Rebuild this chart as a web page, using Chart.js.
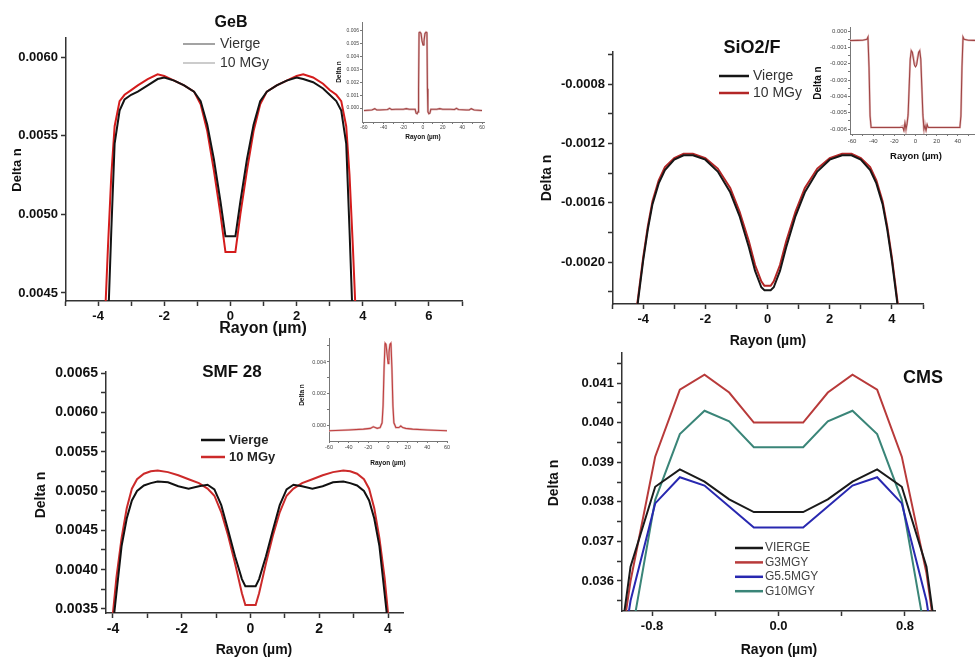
<!DOCTYPE html>
<html>
<head>
<meta charset="utf-8">
<script src="https://cdn.jsdelivr.net/npm/chart.js@4.4.1/dist/chart.umd.min.js"></script>
<style>
html, body { margin: 0; padding: 0; background: #fff; width: 975px; height: 657px; overflow: hidden; }
canvas { position: absolute; }
</style>
</head>
<body>
<canvas id="geb"></canvas>
<canvas id="sio"></canvas>
<canvas id="smf"></canvas>
<canvas id="cms"></canvas>
<canvas id="gebIn"></canvas>
<canvas id="sioIn"></canvas>
<canvas id="smfIn"></canvas>
<script>
// GeB profile
const gebX = [-3.8,-3.7,-3.6,-3.5,-3.35,-3.2,-3.0,-2.8,-2.5,-2.2,-2.0,-1.7,-1.4,-1.1,-0.9,-0.7,-0.5,-0.3,-0.15,
	0.15,0.3,0.5,0.7,0.9,1.1,1.4,1.7,2.0,2.2,2.5,2.8,3.0,3.2,3.35,3.5,3.6,3.7,3.8];
const gebVierge = [0.0040,0.0043,0.0049,0.00545,0.00566,0.00573,0.00576,0.00578,0.00582,0.00586,0.00587,0.00585,0.00582,0.00578,0.00572,0.00557,0.00535,0.00508,0.00486,
	0.00486,0.00508,0.00535,0.00557,0.00572,0.00578,0.00582,0.00585,0.00587,0.00586,0.00584,0.00580,0.00576,0.00572,0.00566,0.00545,0.0049,0.0043,0.0040];
const geb10 = [0.0043,0.0048,0.00525,0.00556,0.00572,0.00576,0.00579,0.00582,0.00586,0.00589,0.00588,0.00585,0.00582,0.00578,0.00570,0.00553,0.00528,0.00500,0.00476,
	0.00476,0.00500,0.00528,0.00553,0.00570,0.00578,0.00582,0.00585,0.00588,0.00589,0.00587,0.00583,0.00579,0.00576,0.00572,0.00556,0.00525,0.0048,0.0043];
const gebXTicks = [-5,-4,-3,-2,-1,0,1,2,3,4,5,6,7];
const gebXLabels = [-4,-2,0,2,4,6];
const gebYTicks = [0.0045,0.0050,0.0055,0.0060];

// SiO2/F profile
const sioX = [-4.3,-4.2,-4.0,-3.85,-3.7,-3.5,-3.3,-3.0,-2.7,-2.4,-2.0,-1.6,-1.2,-0.9,-0.6,-0.4,-0.2,-0.1,
	0.1,0.2,0.4,0.6,0.9,1.2,1.6,2.0,2.4,2.7,3.0,3.3,3.5,3.7,3.85,4.0,4.2,4.3];
const sioVierge = [-0.00250,-0.00232,-0.00199,-0.00178,-0.00161,-0.00147,-0.00138,-0.00131,-0.00128,-0.00128,-0.00131,-0.00139,-0.00153,-0.00169,-0.00190,-0.00206,-0.00217,-0.00219,
	-0.00219,-0.00217,-0.00206,-0.00190,-0.00169,-0.00153,-0.00139,-0.00131,-0.00128,-0.00128,-0.00131,-0.00138,-0.00147,-0.00161,-0.00178,-0.00199,-0.00232,-0.00250];
const sio10 = [-0.00250,-0.00230,-0.00197,-0.00176,-0.00159,-0.00145,-0.00136,-0.00130,-0.00127,-0.00127,-0.00130,-0.00137,-0.00150,-0.00166,-0.00186,-0.00202,-0.00213,-0.00216,
	-0.00216,-0.00213,-0.00202,-0.00186,-0.00166,-0.00150,-0.00137,-0.00130,-0.00127,-0.00127,-0.00130,-0.00136,-0.00145,-0.00159,-0.00176,-0.00197,-0.00230,-0.00250];
const sioXTicks = [-5,-4,-3,-2,-1,0,1,2,3,4,5];
const sioXLabels = [-4,-2,0,2,4];
const sioYTicks = [-0.0022,-0.0020,-0.0018,-0.0016,-0.0014,-0.0012,-0.0010,-0.0008,-0.0006];
const sioYLabels = [-0.0020,-0.0016,-0.0012,-0.0008];

// SMF 28 profile
const smfX = [-4.0,-3.9,-3.75,-3.6,-3.45,-3.3,-3.1,-2.9,-2.7,-2.4,-2.1,-1.8,-1.5,-1.25,-1.05,-0.85,-0.65,-0.45,-0.25,-0.15,
	0.15,0.25,0.45,0.65,0.85,1.05,1.25,1.5,1.8,2.1,2.4,2.7,2.9,3.1,3.3,3.45,3.6,3.75,3.9,4.0];
const smfVierge = [0.00330,0.00370,0.00430,0.00465,0.00488,0.00500,0.00507,0.00510,0.00512,0.00511,0.00506,0.00503,0.00506,0.00508,0.00502,0.00482,0.00450,0.00417,0.00388,0.00379,
	0.00379,0.00388,0.00417,0.00450,0.00482,0.00502,0.00508,0.00506,0.00503,0.00506,0.00511,0.00512,0.00510,0.00507,0.00500,0.00488,0.00465,0.00430,0.00370,0.00330];
const smf10 = [0.00345,0.00390,0.00440,0.00478,0.00503,0.00515,0.00522,0.00525,0.00526,0.00524,0.00520,0.00515,0.00510,0.00503,0.00494,0.00473,0.00443,0.00408,0.00370,0.00355,
	0.00355,0.00370,0.00408,0.00443,0.00473,0.00494,0.00503,0.00510,0.00515,0.00520,0.00524,0.00526,0.00525,0.00522,0.00515,0.00503,0.00478,0.00440,0.00390,0.00345];
const smfXTicks = [-4,-3,-2,-1,0,1,2,3,4];
const smfXLabels = [-4,-2,0,2,4];
const smfYTicks = [0.0035,0.00375,0.0040,0.00425,0.0045,0.00475,0.0050,0.00525,0.0055,0.00575,0.0060,0.00625,0.0065];
const smfYLabels = [0.0035,0.0040,0.0045,0.0050,0.0055,0.0060,0.0065];

// CMS profile
const cmsX = [-1.092,-0.936,-0.78,-0.624,-0.468,-0.312,-0.156,0.156,0.312,0.468,0.624,0.78,0.936,1.092];
const cmsVierge = [0.0318,0.03636,0.03838,0.03882,0.03851,0.03806,0.03774,0.03774,0.03806,0.03851,0.03882,0.03838,0.03636,0.0318];
const cmsG3 = [0.0318,0.0360,0.03914,0.04083,0.04121,0.04076,0.04000,0.04000,0.04076,0.04121,0.04083,0.03914,0.0362,0.0318];
const cmsG55 = [0.0315,0.0355,0.03796,0.03862,0.03841,0.03788,0.03735,0.03735,0.03788,0.03841,0.03862,0.03796,0.0355,0.0315];
const cmsG10 = [0.0300,0.0345,0.03805,0.03971,0.04030,0.04003,0.03938,0.03938,0.04003,0.04030,0.03971,0.03805,0.0345,0.0300];
const cmsXTicks = [-0.8,-0.4,0,0.4,0.8];
const cmsXLabels = [-0.8,0,0.8];
const cmsYTicks = [0.0355,0.036,0.0365,0.037,0.0375,0.038,0.0385,0.039,0.0395,0.040,0.0405,0.041,0.0415];
const cmsYLabels = [0.036,0.037,0.038,0.039,0.040,0.041];

// insets (full radial scan)
const gebInX = [-60,-52,-49,-47,-44,-36,-34,-32,-28,-20,-17,-14,-10,-8,-7,-6,-5,-4.5,-4,-3,-2,-1,0,1,2,3,4,4.5,5,6,7,8,10,14,17,20,28,32,34,36,44,47,49,52,60];
const gebInVierge = [-0.0002,-0.00015,-0.00005,-0.00015,-0.00015,-0.00012,-0.00003,-0.00012,-0.0001,-0.0001,-0.00005,-0.0001,-0.0001,-0.0001,-0.0004,-0.00045,-0.0003,0.0015,0.0058,0.0059,0.0058,0.0053,0.0050,0.0053,0.0058,0.0059,0.0058,0.0015,-0.0003,-0.00045,-0.0004,-0.0001,-0.0001,-0.0001,-0.00005,-0.0001,-0.0001,-0.00012,-0.00003,-0.00012,-0.00015,-0.00015,-0.00005,-0.00015,-0.0002];
const gebIn10 = [-0.0002,-0.00015,-0.00005,-0.00015,-0.00015,-0.00012,-0.00003,-0.00012,-0.0001,-0.0001,-0.00005,-0.0001,-0.0001,-0.0001,-0.0004,-0.00045,-0.0003,0.0015,0.0059,0.0059,0.0058,0.0052,0.0049,0.0052,0.0058,0.0059,0.0059,0.0015,-0.0003,-0.00045,-0.0004,-0.0001,-0.0001,-0.0001,-0.00005,-0.0001,-0.0001,-0.00012,-0.00003,-0.00012,-0.00015,-0.00015,-0.00005,-0.00015,-0.0002];
const gebInXTicks = [-60,-50,-40,-30,-20,-10,0,10,20,30,40,50,60];
const gebInXLabels = [-60,-40,-20,0,20,40,60];
const gebInYTicks = [0,0.001,0.002,0.003,0.004,0.005,0.006];

const sioInX = [-62,-55,-50,-46,-45,-44,-43,-42,-35,-25,-15,-12,-11,-10,-9,-8,-7,-6,-5,-4,-3,-2,-1,0,1,2,3,4,5,6,7,8,9,10,11,12,15,25,35,42,43,44,45,46,50,55,62];
const sioInVierge = [-0.00058,-0.00057,-0.00056,-0.00050,-0.00038,-0.0022,-0.0052,-0.0059,-0.0059,-0.0059,-0.0059,-0.0058,-0.0060,-0.0057,-0.0061,-0.0056,-0.0052,-0.0035,-0.0018,-0.0012,-0.0013,-0.0016,-0.0020,-0.0021,-0.0020,-0.0016,-0.0013,-0.0012,-0.0018,-0.0035,-0.0052,-0.0061,-0.0057,-0.0060,-0.0058,-0.0059,-0.0059,-0.0059,-0.0059,-0.0059,-0.0052,-0.0022,-0.00038,-0.00050,-0.00056,-0.00057,-0.00058];
const sioIn10 = [-0.00058,-0.00057,-0.00056,-0.00050,-0.00036,-0.0022,-0.0052,-0.0059,-0.0059,-0.0059,-0.0059,-0.0059,-0.0061,-0.0056,-0.0060,-0.0057,-0.0051,-0.0034,-0.0017,-0.0012,-0.0013,-0.0017,-0.0021,-0.0022,-0.0021,-0.0017,-0.0013,-0.0012,-0.0017,-0.0034,-0.0051,-0.0060,-0.0058,-0.0061,-0.0057,-0.0059,-0.0059,-0.0059,-0.0059,-0.0059,-0.0052,-0.0022,-0.00036,-0.00050,-0.00056,-0.00057,-0.00058];
const sioInXTicks = [-60,-50,-40,-30,-20,-10,0,10,20,30,40,50,60];
const sioInXLabels = [-60,-40,-20,0,20,40,60];
const sioInYTicks = [-0.006,-0.0055,-0.005,-0.0045,-0.004,-0.0035,-0.003,-0.0025,-0.002,-0.0015,-0.001,-0.0005,0];
const sioInYLabels = [-0.006,-0.005,-0.004,-0.003,-0.002,-0.001,0];

const smfInX = [-60,-40,-25,-18,-15,-13,-11,-8,-6,-5,-4,-3,-2,-1,0,1,2,3,4,5,6,8,11,13,15,18,25,40,60];
const smfInVierge = [-0.0003,-0.00025,-0.0002,-0.00015,-0.00005,-0.0001,-0.00015,-0.0001,0.0002,0.0012,0.0035,0.0051,0.0051,0.0047,0.0042,0.0047,0.0051,0.0051,0.0035,0.0012,0.0002,-0.0001,-0.0001,0.0000,-0.0001,-0.00015,-0.0002,-0.00025,-0.0003];
const smfIn10 = [-0.0003,-0.00025,-0.0002,-0.00015,-0.00005,-0.0001,-0.00015,-0.0001,0.0002,0.0013,0.0036,0.0052,0.0051,0.0045,0.0039,0.0046,0.0051,0.0052,0.0036,0.0013,0.0002,-0.0001,-0.0001,0.0000,-0.0001,-0.00015,-0.0002,-0.00025,-0.0003];
const smfInXTicks = [-60,-50,-40,-30,-20,-10,0,10,20,30,40,50,60];
const smfInXLabels = [-60,-40,-20,0,20,40,60];
const smfInYTicks = [0,0.001,0.002,0.003,0.004,0.005];
const smfInYLabels = [0,0.002,0.004];

const FONT = "'Liberation Sans', Arial, Helvetica, sans-serif";
Chart.defaults.font.family = FONT;
Chart.defaults.color = '#222';

// extra text (titles, axis names, legends) per canvas, in page coordinates
const extras = {};

const textPlugin = {
	id: 'panelText',
	afterDraw(chart) {
		const ex = extras[chart.canvas.id];
		if (!ex) return;
		const ctx = chart.ctx;
		(ex.texts || []).forEach((t) => {
			ctx.save();
			ctx.font = t.font;
			ctx.fillStyle = t.color || '#111';
			ctx.textAlign = 'center';
			ctx.textBaseline = 'middle';
			ctx.translate(t.x - ex.ox, t.y - ex.oy);
			if (t.rot) ctx.rotate(-Math.PI / 2);
			ctx.fillText(t.text, 0, 0);
			ctx.restore();
		});
		const lg = ex.legend;
		if (!lg) return;
		chart.data.datasets.forEach((ds, i) => {
			const y = lg.y + i * lg.dy - ex.oy;
			const x = lg.x - ex.ox;
			ctx.save();
			ctx.strokeStyle = lg.colors ? lg.colors[i] : ds.borderColor;
			ctx.lineWidth = lg.lw;
			ctx.beginPath();
			ctx.moveTo(x, y);
			ctx.lineTo(x + lg.len, y);
			ctx.stroke();
			ctx.font = lg.font;
			ctx.fillStyle = lg.color;
			ctx.textAlign = 'left';
			ctx.textBaseline = 'middle';
			ctx.fillText(ds.label, x + lg.len + lg.gap, y);
			ctx.restore();
		});
	},
};

function axis(o) {
	return {
		type: 'linear',
		min: o.min,
		max: o.max,
		afterBuildTicks: (s) => { s.ticks = o.ticks.map((v) => ({ value: v })); },
		afterFit: (s) => {
			if (s.isHorizontal()) s.height = o.size;
			else s.width = o.size;
		},
		border: { display: true, color: o.line, width: o.bw },
		grid: { drawOnChartArea: false, drawTicks: true, tickLength: o.tl, color: o.line, tickWidth: o.bw },
		ticks: {
			autoSkip: false,
			maxRotation: 0,
			padding: o.pad,
			color: o.tc || '#111',
			font: o.font,
			callback: (v) => (o.labels.some((l) => Math.abs(l - v) < 1e-10) ? o.fmt(v) : ''),
		},
	};
}

function series(xs, ys) {
	return xs.map((x, i) => ({ x, y: ys[i] }));
}

// box: canvas rect, plot: chart area rect [L, T, R, B], ya/xa: y-axis width and x-axis height
function panel(id, box, plot, ya, xa, datasets, xAxis, yAxis, ex) {
	const c = document.getElementById(id);
	c.width = box.w;
	c.height = box.h;
	c.style.left = box.x + 'px';
	c.style.top = box.y + 'px';
	c.style.width = box.w + 'px';
	c.style.height = box.h + 'px';
	const [L, T, R, B] = plot;
	ex.ox = box.x;
	ex.oy = box.y;
	extras[id] = ex;
	xAxis.size = xa;
	yAxis.size = ya;
	return new Chart(c, {
		type: 'scatter',
		data: { datasets },
		options: {
			responsive: false,
			animation: false,
			events: [],
			layout: {
				padding: {
					left: L - box.x - ya,
					top: T - box.y,
					right: box.x + box.w - R,
					bottom: box.y + box.h - B - xa,
				},
			},
			elements: { point: { radius: 0 }, line: { tension: 0 } },
			plugins: { legend: { display: false }, tooltip: { enabled: false } },
			scales: { x: axis(xAxis), y: axis(yAxis) },
		},
		plugins: [textPlugin],
	});
}

function line(label, xs, ys, color, w) {
	return { label, data: series(xs, ys), showLine: true, borderColor: color, backgroundColor: color, borderWidth: w, pointRadius: 0 };
}

const AX = '#333';
const B13 = 'bold 13px ' + FONT;
const B14 = 'bold 14px ' + FONT;

// GeB
panel('geb', { x: 0, y: 0, w: 487, h: 345 }, [66, 38, 462, 301], 62, 25,
	[line('Vierge', gebX, gebVierge, '#141414', 2), line('10 MGy', gebX, geb10, '#d41c1c', 2)],
	{ min: -4.97, max: 7.0, ticks: gebXTicks, labels: gebXLabels, fmt: (v) => String(v), font: { size: 13, weight: 'bold' }, tl: 5, pad: 3, line: AX, bw: 1.5 },
	{ min: 0.004449, max: 0.006121, ticks: gebYTicks, labels: gebYTicks, fmt: (v) => v.toFixed(4), font: { size: 13, weight: 'bold' }, tl: 5, pad: 3, line: AX, bw: 1.5 },
	{
		texts: [
			{ text: 'GeB', x: 231, y: 23, font: 'bold 16px ' + FONT },
			{ text: 'Delta n', x: 17, y: 170, font: B13, rot: true },
			{ text: 'Rayon (µm)', x: 263, y: 329, font: 'bold 16px ' + FONT },
		],
		legend: { x: 183, y: 44, dy: 19, len: 32, gap: 5, lw: 1.2, font: '14px ' + FONT, color: '#333', colors: ['#666', '#aaa'] },
	});

// SiO2/F
panel('sio', { x: 487, y: 0, w: 488, h: 352 }, [613, 52, 923, 304], 68, 25,
	[line('Vierge', sioX, sioVierge, '#161616', 2), line('10 MGy', sioX, sio10, '#b32626', 2)],
	{ min: -4.97, max: 5.0, ticks: sioXTicks, labels: sioXLabels, fmt: (v) => String(v), font: { size: 13, weight: 'bold' }, tl: 5, pad: 3, line: AX, bw: 1.5 },
	{ min: -0.002283, max: -0.000584, ticks: sioYTicks, labels: sioYLabels, fmt: (v) => v.toFixed(4), font: { size: 13, weight: 'bold' }, tl: 5, pad: 3, line: AX, bw: 1.5 },
	{
		texts: [
			{ text: 'SiO2/F', x: 752, y: 48, font: 'bold 18px ' + FONT },
			{ text: 'Delta n', x: 547, y: 178, font: B14, rot: true },
			{ text: 'Rayon (µm)', x: 768, y: 341, font: B14 },
		],
		legend: { x: 719, y: 76, dy: 17, len: 30, gap: 4, lw: 2.5, font: '14px ' + FONT, color: '#333' },
	});

// SMF 28
panel('smf', { x: 0, y: 330, w: 487, h: 327 }, [106, 372, 403, 613], 66, 24,
	[line('Vierge', smfX, smfVierge, '#111', 2), line('10 MGy', smfX, smf10, '#cc2a2a', 2)],
	{ min: -4.203, max: 4.436, ticks: smfXTicks, labels: smfXLabels, fmt: (v) => String(v), font: { size: 14, weight: 'bold' }, tl: 5, pad: 3, line: AX, bw: 1.5 },
	{ min: 0.003449, max: 0.006513, ticks: smfYTicks, labels: smfYLabels, fmt: (v) => v.toFixed(4), font: { size: 14, weight: 'bold' }, tl: 5, pad: 3, line: AX, bw: 1.5 },
	{
		texts: [
			{ text: 'SMF 28', x: 232, y: 372, font: 'bold 17px ' + FONT },
			{ text: 'Delta n', x: 41, y: 495, font: B14, rot: true },
			{ text: 'Rayon (µm)', x: 254, y: 650, font: B14 },
		],
		legend: { x: 201, y: 440, dy: 17, len: 24, gap: 4, lw: 2.5, font: 'bold 13px ' + FONT, color: '#222' },
	});

// CMS
panel('cms', { x: 487, y: 335, w: 488, h: 322 }, [622, 353, 935, 611], 60, 24,
	[
		line('VIERGE', cmsX, cmsVierge, '#1a1a1a', 2),
		line('G3MGY', cmsX, cmsG3, '#b83a3a', 2),
		line('G5.5MGY', cmsX, cmsG55, '#2828b0', 2),
		line('G10MGY', cmsX, cmsG10, '#3a8578', 2),
	],
	{ min: -0.99, max: 0.99, ticks: cmsXTicks, labels: cmsXLabels, fmt: (v) => v.toFixed(1), font: { size: 13, weight: 'bold' }, tl: 5, pad: 3, line: AX, bw: 1.5 },
	{ min: 0.035242, max: 0.041758, ticks: cmsYTicks, labels: cmsYLabels, fmt: (v) => v.toFixed(3), font: { size: 13, weight: 'bold' }, tl: 5, pad: 3, line: AX, bw: 1.5 },
	{
		texts: [
			{ text: 'CMS', x: 923, y: 378, font: 'bold 18px ' + FONT },
			{ text: 'Delta n', x: 554, y: 483, font: B14, rot: true },
			{ text: 'Rayon (µm)', x: 779, y: 650, font: B14 },
		],
		legend: { x: 735, y: 548, dy: 14.4, len: 28, gap: 2, lw: 2.5, font: '12px ' + FONT, color: '#444' },
	});

// insets: the dark trace is listed first so Chart.js paints it on top of the pale one
const INAX = '#777';
const IN_LIGHT = '#e2bcbc';
const IN_DARK = '#a04444';
panel('gebIn', { x: 325, y: 8, w: 170, h: 140 }, [362, 22, 484, 122], 24, 10,
	[line('10 MGy', gebInX, gebIn10, IN_DARK, 1.1), line('Vierge', gebInX, gebInVierge, IN_LIGHT, 2.2)],
	{ min: -62, max: 62, ticks: gebInXTicks, labels: gebInXLabels, fmt: (v) => String(v), font: { size: 5 }, tc: '#444', tl: 2, pad: 1, line: INAX, bw: 1 },
	{ min: -0.00109, max: 0.0067, ticks: gebInYTicks, labels: gebInYTicks, fmt: (v) => v.toFixed(3), font: { size: 5 }, tc: '#444', tl: 2, pad: 1, line: INAX, bw: 1 },
	{
		texts: [
			{ text: 'Delta n', x: 339, y: 72, font: 'bold 6.5px ' + FONT, rot: true },
			{ text: 'Rayon (µm)', x: 423, y: 137, font: 'bold 6.5px ' + FONT },
		],
	});

panel('sioIn', { x: 795, y: 10, w: 192, h: 155 }, [850, 27, 981, 134], 34, 12,
	[line('10 MGy', sioInX, sioIn10, IN_DARK, 1.1), line('Vierge', sioInX, sioInVierge, IN_LIGHT, 2.2)],
	{ min: -62, max: 62, ticks: sioInXTicks, labels: sioInXLabels, fmt: (v) => String(v), font: { size: 6 }, tc: '#444', tl: 2, pad: 2, line: INAX, bw: 1 },
	{ min: -0.0063, max: 0.00025, ticks: sioInYTicks, labels: sioInYLabels, fmt: (v) => v.toFixed(3), font: { size: 6 }, tc: '#444', tl: 2, pad: 1, line: INAX, bw: 1 },
	{
		texts: [
			{ text: 'Delta n', x: 818, y: 83, font: 'bold 10px ' + FONT, rot: true },
			{ text: 'Rayon (µm)', x: 916, y: 156, font: 'bold 9.5px ' + FONT },
		],
	});

panel('smfIn', { x: 290, y: 326, w: 170, h: 145 }, [329, 338, 447, 441], 26, 11,
	[line('10 MGy', smfInX, smfIn10, '#c04040', 1.1), line('Vierge', smfInX, smfInVierge, IN_LIGHT, 2.2)],
	{ min: -60, max: 60, ticks: smfInXTicks, labels: smfInXLabels, fmt: (v) => String(v), font: { size: 5.5 }, tc: '#444', tl: 2, pad: 1, line: INAX, bw: 1 },
	{ min: -0.00094, max: 0.0055, ticks: smfInYTicks, labels: smfInYLabels, fmt: (v) => v.toFixed(3), font: { size: 5.5 }, tc: '#444', tl: 2, pad: 1, line: INAX, bw: 1 },
	{
		texts: [
			{ text: 'Delta n', x: 302, y: 395, font: 'bold 6.5px ' + FONT, rot: true },
			{ text: 'Rayon (µm)', x: 388, y: 463, font: 'bold 6.5px ' + FONT },
		],
	});
</script>
</body>
</html>
